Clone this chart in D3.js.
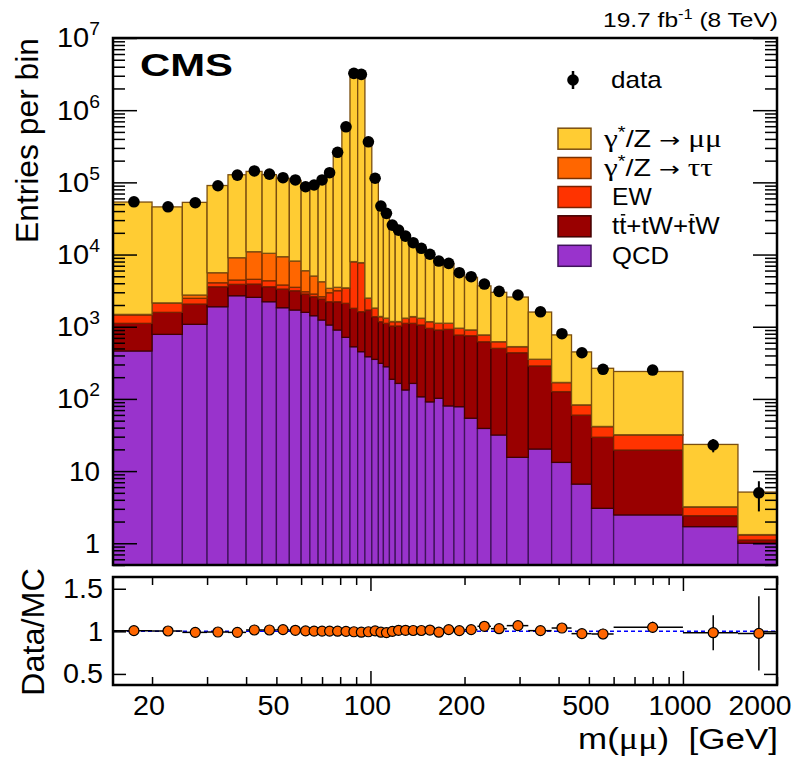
<!DOCTYPE html>
<html><head><meta charset="utf-8">
<script src="https://cdn.jsdelivr.net/npm/d3@7"></script>
<style>
body{margin:0;background:#fff}
svg{display:block}
text{font-family:"Liberation Sans",Arial,Helvetica,sans-serif;fill:#000}
.gr{font-family:"Liberation Serif","DejaVu Serif",serif}
</style>
</head><body>
<svg id="c" width="810" height="757"></svg>
<script>
// ---------------- data ----------------
const binEdges = [15,20,25,30,35,40,45,50,55,60,64,68,72,76,81,86,91,96,101,106,110,115,120,126,133,141,150,160,171,185,200,220,243,273,320,380,440,510,600,1000,1500,2000];
const dataCounts = [53800,45900,52200,89700,126000,144000,130000,116000,108000,87000,
  92000,108000,136000,261000,589000,3240000,3130000,365000,114000,47000,
  37200,25600,21800,18000,14600,12200,10100,8130,7550,5600,
  4930,3900,3090,2750,1610,800,436,257,251,23,5];
const dyMuMu = [51890,43580,50080,84820,118490,130790,117550,104400,98590,80600,
  86960,103800,132600,257480,585550,3264700,3153900,366200,113340,46080,
  36450,24420,20400,16510,13000,10770,8770,7010,6280,4600,
  3930,2910,2376,2047,1243,601,365,224,208,20.2,3.8];
const dyTauTau = [30,30,275,1532,4600,6403,6064,5548,4612,2917,
  2202,1593,446,362,50,50,40,20,15,12,
  10,10,8,8,7,6,5,5,4,4,
  3,3,2,2,1,1,0.5,0.3,0.3,0.05,0.02];
const ewk = [339,528,412,485,570,637,755,458,362,215,
  233,185,739,935,1294,6144,6076,770,423,203,
  192,150,150,192,262,250,223,214,194,183,
  150,148,117,92,67,42,22.6,11.8,12,0.74,0.19];
const ttbar = [653,798,981,1689,1179,1347,1362,1494,1451,1256,
  1185,1182,1163,1319,1397,1271,1164,1319,1023,862,
  835,836,859,981,950,949,859,798,840,689,
  696,580,470,421,266,113,53,26.4,17.1,0.71,0.11];
const qcd = [461,784,1080,1892,2687,2553,2219,1833,1703,1582,
  1420,1238,1056,900,713,528,451,384,353,311,
  279,187,164,133,164,107,91,102,80,78,
  54,39,31.6,15.5,20.2,13.2,6.6,3.05,2.47,1.70,1.0];
const ratio = [1.008,1.004,0.988,0.992,0.988,1.016,1.016,1.020,1.012,1.005,
  1.003,1.003,1.003,1.002,1.000,0.995,0.990,0.995,1.005,0.990,
  0.985,1.000,1.012,1.012,1.010,1.010,1.015,0.990,1.020,1.008,
  1.020,1.059,1.031,1.067,1.008,1.039,0.973,0.969,1.047,0.984,0.976];
const yMajorTicks = [1,10,1e2,1e3,1e4,1e5,1e6,1e7];
const yTickLabels = ["1","10","10|2","10|3","10|4","10|5","10|6","10|7"];
const xTickValues = [20,50,100,200,500,1000,2000];
const xTickLabels = ["20","50","100","200","500","1000","2000"];
const ratioTicks = [0.5,1,1.5];
const ratioTickLabels = ["0.5","1","1.5"];
const legendLabels = ["data","γ*/Z → μμ","γ*/Z → ττ","EW","tt+tW+tW","QCD"];

// ---------------- layout ----------------
const X0=113, X1=777, T0=38, T1=565, R0=577, R1=685;
const yMin=0.5, yMax=1e7;
const svg = d3.select("#c");
const x = d3.scaleLog().domain([binEdges[0], binEdges[binEdges.length-1]]).range([X0,X1]);
const y = d3.scaleLog().domain([yMin,yMax]).range([T1,T0]);
const yr = d3.scaleLinear().domain([0.37,1.638]).range([R1,R0]);

const keys = ["qcd","ttbar","ew","tautau","mumu"];
const fills = {mumu:"#ffcc33",tautau:"#ff6600",ew:"#ff3300",ttbar:"#990000",qcd:"#9933cc"};
const strokes = {mumu:"#7a4e10",tautau:"#7a3000",ew:"#7a2000",ttbar:"#420000",qcd:"#3f135a"};

// stretch a text horizontally to a target width, keeping its anchor point fixed
function fit(sel, ax, target){
  const w = sel.node().getBBox().width;
  const s = target / w;
  sel.attr("transform", `translate(${ax},0) scale(${s},1) translate(${-ax},0)`);
  return sel;
}

const rows = dataCounts.map((d,i)=>({lo:binEdges[i],hi:binEdges[i+1],
  qcd:qcd[i],ttbar:ttbar[i],ew:ewk[i],tautau:dyTauTau[i],mumu:dyMuMu[i],data:d,ratio:ratio[i]}));
const stacked = d3.stack().keys(keys)(rows);

svg.append("defs").append("clipPath").attr("id","cp").append("rect")
  .attr("x",X0).attr("y",T0).attr("width",X1-X0).attr("height",T1-T0);

const gBars = svg.append("g").attr("clip-path","url(#cp)");
stacked.forEach(layer=>{
  gBars.append("g").selectAll("rect").data(layer).join("rect")
    .attr("x",d=>x(d.data.lo)).attr("width",d=>x(d.data.hi)-x(d.data.lo))
    .attr("y",d=>y(d[1]))
    .attr("height",d=>Math.max(0,y(Math.max(d[0],yMin*0.8))-y(d[1])))
    .attr("fill",fills[layer.key]).attr("stroke",strokes[layer.key]).attr("stroke-width",1.3);
});

// ---------------- axes ticks (top panel) ----------------
const minorY=[];
for(let e=-1;e<7;e++) for(let m=2;m<10;m++){const v=m*Math.pow(10,e); if(v>=yMin&&v<=yMax) minorY.push(v);}
function tickAxis(axis, tr){
  const g=svg.append("g").attr("transform",tr).call(axis);
  g.select(".domain").remove();
  g.selectAll("line").attr("stroke","#000").attr("stroke-width",1.5);
  g.selectAll("text").remove();
  return g;
}
tickAxis(d3.axisRight(y).tickValues(yMajorTicks).tickSize(24).tickFormat(""),`translate(${X0},0)`);
tickAxis(d3.axisRight(y).tickValues(minorY).tickSize(12).tickFormat(""),`translate(${X0},0)`);
tickAxis(d3.axisLeft(y).tickValues(yMajorTicks).tickSize(24).tickFormat(""),`translate(${X1},0)`);
tickAxis(d3.axisLeft(y).tickValues(minorY).tickSize(12).tickFormat(""),`translate(${X1},0)`);

// y tick labels
yMajorTicks.forEach((v,i)=>{
  const parts=yTickLabels[i].split("|");
  const t=svg.append("text").attr("x",100).attr("y",y(v)+9.5).attr("text-anchor","end").attr("font-size",27);
  t.append("tspan").text(parts[0]);
  if(parts[1]) t.append("tspan").attr("dy",-12).attr("font-size",18).text(parts[1]);
  const w=t.node().getBBox().width;
  const target = parts[1] ? 43 : (parts[0].length===2 ? 31 : 12);
  if(parts[0].length>1) fit(t,100,target);
});

// frame top
svg.append("rect").attr("x",X0).attr("y",T0).attr("width",X1-X0).attr("height",T1-T0)
  .attr("fill","none").attr("stroke","#000").attr("stroke-width",2.5);

// data points top panel
const gData=svg.append("g");
rows.forEach(r=>{
  const cx=x((r.lo+r.hi)/2), e=Math.sqrt(r.data);
  gData.append("line").attr("x1",cx).attr("x2",cx).attr("y1",y(r.data+e)).attr("y2",y(Math.max(r.data-e,yMin)))
    .attr("stroke","#000").attr("stroke-width",2);
  gData.append("circle").attr("cx",cx).attr("cy",y(r.data)).attr("r",5.8).attr("fill","#000");
});

// CMS label & lumi
svg.append("text").attr("x",140).attr("y",76).attr("font-size",32).attr("font-weight","bold")
  .attr("textLength",93).attr("lengthAdjust","spacingAndGlyphs").text("CMS");
const lumi=svg.append("text").attr("x",778).attr("y",27).attr("text-anchor","end").attr("font-size",21);
lumi.append("tspan").text("19.7 fb");
lumi.append("tspan").attr("dy",-8).attr("font-size",14).text("-1");
lumi.append("tspan").attr("dy",8).text(" (8 TeV)");
fit(lumi,778,175);

// y axis title
svg.append("text").attr("transform","translate(38,38) rotate(-90)").attr("text-anchor","end")
  .attr("font-size",31).attr("textLength",205).attr("lengthAdjust","spacingAndGlyphs").text("Entries per bin");

// legend
const legY=[80,138.7,168,197,226.3,255.8];
const lg=svg.append("g");
lg.append("line").attr("x1",573).attr("x2",573).attr("y1",legY[0]-9).attr("y2",legY[0]+9).attr("stroke","#000").attr("stroke-width",2.5);
lg.append("circle").attr("cx",573).attr("cy",legY[0]).attr("r",5.8).attr("fill","#000");
const legKeys=["mumu","tautau","ew","ttbar","qcd"];
legKeys.forEach((k,i)=>{
  lg.append("rect").attr("x",558).attr("y",legY[i+1]-10.5).attr("width",33).attr("height",21)
    .attr("fill",fills[k]).attr("stroke",strokes[k]).attr("stroke-width",1.5);
});
function legText(i,x0){
  return lg.append("text").attr("x",x0).attr("y",legY[i]+8).attr("font-size",23);
}
fit(legText(0,611).text(legendLabels[0]),611,51);
function gammaLabel(i,lab,len){
  const t=legText(i,604);
  const g2=lab.split(" → ")[1];
  t.append("tspan").attr("class","gr").attr("font-size",25).text("γ");
  t.append("tspan").attr("dy",-9).attr("font-size",16).text("*");
  t.append("tspan").attr("dy",9).text("/Z ");
  t.append("tspan").attr("font-family","DejaVu Sans").attr("font-size",20).text("→");
  t.append("tspan").text(" ");
  t.append("tspan").attr("class","gr").attr("font-size",25).text(g2);
  fit(t,604,len);
}
gammaLabel(1,legendLabels[1],119);
gammaLabel(2,legendLabels[2],110);
fit(legText(3,612).text(legendLabels[3]),612,40);
const ttT=legText(4,612).text(legendLabels[4]);
fit(ttT,612,108);
fit(legText(5,612).text(legendLabels[5]),612,57);
// bars over the anti-top quarks (drawn inside the text's own transform)
const ttG=lg.append("g").attr("transform",ttT.attr("transform"));
[1,6].forEach(ci=>{
  const b=ttT.node().getExtentOfChar(ci);
  ttG.append("line").attr("x1",b.x+1.5).attr("x2",b.x+b.width-1).attr("y1",legY[4]-11.5).attr("y2",legY[4]-11.5)
    .attr("stroke","#000").attr("stroke-width",1.5);
});

// ---------------- ratio panel ----------------
const gR=svg.append("g");
gR.append("line").attr("x1",X0).attr("x2",X1).attr("y1",yr(1)).attr("y2",yr(1))
  .attr("stroke","#0000ff").attr("stroke-width",1.5).attr("stroke-dasharray","4,3");
rows.forEach(r=>{
  const cx=x((r.lo+r.hi)/2), cy=yr(r.ratio), e=r.ratio/Math.sqrt(r.data);
  gR.append("line").attr("x1",x(r.lo)).attr("x2",x(r.hi)).attr("y1",cy).attr("y2",cy).attr("stroke","#000").attr("stroke-width",1.5);
  gR.append("line").attr("x1",cx).attr("x2",cx).attr("y1",Math.max(R0,yr(r.ratio+e))).attr("y2",Math.min(R1,yr(r.ratio-e))).attr("stroke","#000").attr("stroke-width",1.5);
});
rows.forEach(r=>{
  gR.append("circle").attr("cx",x((r.lo+r.hi)/2)).attr("cy",yr(r.ratio)).attr("r",5)
    .attr("fill","#ff6600").attr("stroke","#000").attr("stroke-width",1.2);
});
const xMajor=[100,1000];
const xMinor=[20,30,40,50,60,70,80,90,200,300,400,500,600,700,800,900,2000];
tickAxis(d3.axisBottom(x).tickValues(xMajor).tickSize(14).tickFormat(""),`translate(0,${R0})`);
tickAxis(d3.axisBottom(x).tickValues(xMinor).tickSize(8).tickFormat(""),`translate(0,${R0})`);
tickAxis(d3.axisTop(x).tickValues(xMajor).tickSize(14).tickFormat(""),`translate(0,${R1})`);
tickAxis(d3.axisTop(x).tickValues(xMinor).tickSize(8).tickFormat(""),`translate(0,${R1})`);
tickAxis(d3.axisRight(yr).tickValues(ratioTicks).tickSize(13).tickFormat(""),`translate(${X0},0)`);
tickAxis(d3.axisLeft(yr).tickValues(ratioTicks).tickSize(13).tickFormat(""),`translate(${X1},0)`);
svg.append("rect").attr("x",X0).attr("y",R0).attr("width",X1-X0).attr("height",R1-R0)
  .attr("fill","none").attr("stroke","#000").attr("stroke-width",2.5);
ratioTicks.forEach((v,i)=>{
  const t=svg.append("text").attr("x",103).attr("y",yr(v)+9.5).attr("text-anchor","end").attr("font-size",27).text(ratioTickLabels[i]);
  if(ratioTickLabels[i].length>1) fit(t,103,40);
});
xTickValues.forEach((v,i)=>{
  const cx = i===xTickValues.length-1 ? 760 : x(v)-3;
  const t=svg.append("text").attr("x",cx).attr("y",715).attr("text-anchor","middle").attr("font-size",27).text(xTickLabels[i]);
  fit(t,cx,xTickLabels[i].length*15.5+1);
});
const dm=svg.append("text").attr("transform","translate(44,632) rotate(-90)").attr("text-anchor","middle")
  .attr("font-size",32).attr("textLength",128).attr("lengthAdjust","spacingAndGlyphs").text("Data/MC");
const xt=svg.append("text").attr("x",778).attr("y",749).attr("text-anchor","end").attr("font-size",30);
xt.append("tspan").text("m(");
xt.append("tspan").attr("class","gr").attr("font-size",31).text("μμ");
xt.append("tspan").text(")\u00a0\u00a0[GeV]");
fit(xt,778,200);
</script>
</body></html>
